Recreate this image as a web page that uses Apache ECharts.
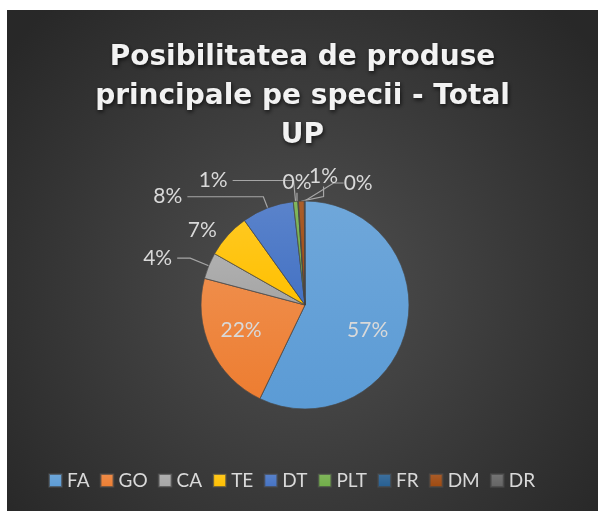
<!DOCTYPE html>
<html>
<head>
    <meta charset="utf-8">
    <title>Posibilitatea de produse principale pe specii</title>
    <script src="https://cdn.jsdelivr.net/npm/echarts@6/dist/echarts.min.js"></script>
    <style>
        body {
            margin: 0;
            background-color: #ffffff;
        }

        #main {
            position: absolute;
            left: 7px;
            top: 10px;
            width: 591px;
            height: 501px;
        }
    </style>
</head>
<body>
    <div id="main"></div>
    <script type="text/javascript">
        // date
        const categories = ['FA', 'GO', 'CA', 'TE', 'DT', 'PLT', 'FR', 'DM', 'DR'];
        const values = [57.2, 22.0, 4.1, 6.9, 8.1, 0.7, 0.1, 0.9, 0.1];
        const colors = ['#5B9BD5', '#ED7D31', '#A5A5A5', '#FFC000', '#4472C4', '#70AD47', '#255E91', '#9E480E', '#636363'];

        // pozitionarea etichetelor (ca in Excel)
        const insideLabels = ['FA', 'GO'];
        const lineLengths = { CA: [20, 13], TE: [8, 0], DT: [12, 76], PLT: [21, 61] };
        const noLine = ['TE'];
        const labelShift = { FA: [9, 13], GO: [-14, 2], FR: [29, -9], DM: [52, -15], DR: [83, -8] };

        const total = values.reduce(function (a, b) { return a + b; }, 0);

        function lighten(hex, amt) {
            const n = parseInt(hex.slice(1), 16);
            let r = (n >> 16) & 255, g = (n >> 8) & 255, b = n & 255;
            r = Math.round(r + (255 - r) * amt);
            g = Math.round(g + (255 - g) * amt);
            b = Math.round(b + (255 - b) * amt);
            return 'rgb(' + r + ',' + g + ',' + b + ')';
        }

        const pieData = categories.map(function (name, i) {
            const item = {
                name: name,
                value: values[i],
                itemStyle: {
                    color: {
                        type: 'linear', x: 0, y: 0, x2: 0, y2: 1,
                        colorStops: [
                            { offset: 0, color: lighten(colors[i], 0.12) },
                            { offset: 1, color: colors[i] }
                        ]
                    }
                }
            };
            if (insideLabels.indexOf(name) >= 0) {
                item.label = { position: 'inside' };
            }
            if (lineLengths[name]) {
                item.labelLine = { length: lineLengths[name][0], length2: lineLengths[name][1] };
            }
            if (noLine.indexOf(name) >= 0) {
                item.labelLine = Object.assign(item.labelLine || {}, { show: false });
            }
            return item;
        });

        const chart = echarts.init(document.getElementById('main'));
        const option = {
            backgroundColor: {
                type: 'radial', x: 0.5, y: 0.55, r: 0.75,
                colorStops: [
                    { offset: 0, color: '#505050' },
                    { offset: 1, color: '#282828' }
                ]
            },
            color: colors,
            title: {
                text: 'Posibilitatea de produse\nprincipale pe specii - Total\nUP',
                left: 'center',
                top: 23,
                textStyle: {
                    color: '#f2f2f2',
                    fontFamily: 'DejaVu Sans',
                    fontWeight: 'bold',
                    fontSize: 28,
                    lineHeight: 39,
                    textShadowColor: 'rgba(0,0,0,0.7)',
                    textShadowBlur: 4,
                    textShadowOffsetX: 1,
                    textShadowOffsetY: 2
                }
            },
            legend: {
                bottom: 16,
                left: 36,
                icon: 'rect',
                itemWidth: 13,
                itemHeight: 13,
                itemGap: 10,
                data: categories,
                textStyle: {
                    color: '#d9d9d9',
                    fontFamily: 'Lato',
                    fontSize: 19
                }
            },
            series: [{
                name: 'Total UP',
                type: 'pie',
                radius: 104,
                center: [298, 295],
                startAngle: 90,
                clockwise: true,
                avoidLabelOverlap: false,
                data: pieData,
                itemStyle: {
                    borderColor: 'rgba(70,70,70,0.7)',
                    borderWidth: 0.6
                },
                label: {
                    show: true,
                    position: 'outside',
                    color: '#d9d9d9',
                    fontFamily: 'Lato',
                    fontSize: 21,
                    formatter: function (p) {
                        return Math.round(p.value / total * 100) + '%';
                    }
                },
                labelLine: {
                    show: true,
                    length: 10,
                    length2: 10,
                    lineStyle: { color: '#a6a6a6', width: 1.2 }
                },
                labelLayout: function (params) {
                    const s = labelShift[categories[params.dataIndex]];
                    if (!s) {
                        return {};
                    }
                    return {
                        x: params.labelRect.x + s[0],
                        y: params.labelRect.y + s[1],
                        align: 'left',
                        verticalAlign: 'top'
                    };
                }
            }]
        };
        chart.setOption(option);

        window.addEventListener('resize', function () {
            chart.resize();
        });
    </script>
</body>
</html>
